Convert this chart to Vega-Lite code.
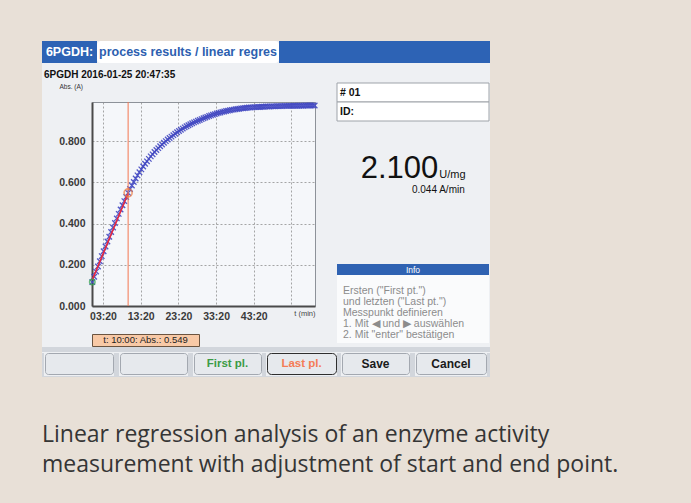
{
  "$schema": "https://vega.github.io/schema/vega-lite/v6.json",
  "background": "#eef0f3",
  "padding": 0,
  "spacing": 0,
  "config": {"view": {"stroke": null}, "font": "Liberation Sans", "concat": {"spacing": 0}},
  "datasets": {
    "readings": [
      {"t":30,"abs":0.116},{"t":60,"abs":0.142},{"t":90,"abs":0.167},{"t":120,"abs":0.192},{"t":150,"abs":0.217},{"t":180,"abs":0.242},{"t":210,"abs":0.266},{"t":240,"abs":0.289},{"t":270,"abs":0.313},{"t":300,"abs":0.336},
      {"t":330,"abs":0.359},{"t":360,"abs":0.381},{"t":390,"abs":0.403},{"t":420,"abs":0.425},{"t":450,"abs":0.447},{"t":480,"abs":0.468},{"t":510,"abs":0.489},{"t":540,"abs":0.509},{"t":570,"abs":0.529},{"t":600,"abs":0.549},
      {"t":630,"abs":0.568},{"t":660,"abs":0.585},{"t":690,"abs":0.602},{"t":720,"abs":0.619},{"t":750,"abs":0.634},{"t":780,"abs":0.649},{"t":810,"abs":0.663},{"t":840,"abs":0.677},{"t":870,"abs":0.690},{"t":900,"abs":0.702},
      {"t":930,"abs":0.714},{"t":960,"abs":0.726},{"t":990,"abs":0.736},{"t":1020,"abs":0.747},{"t":1050,"abs":0.757},{"t":1080,"abs":0.766},{"t":1110,"abs":0.775},{"t":1140,"abs":0.784},{"t":1170,"abs":0.792},{"t":1200,"abs":0.800},
      {"t":1230,"abs":0.808},{"t":1260,"abs":0.815},{"t":1290,"abs":0.822},{"t":1320,"abs":0.829},{"t":1350,"abs":0.836},{"t":1380,"abs":0.843},{"t":1410,"abs":0.849},{"t":1440,"abs":0.855},{"t":1470,"abs":0.861},{"t":1500,"abs":0.867},
      {"t":1530,"abs":0.872},{"t":1560,"abs":0.877},{"t":1590,"abs":0.882},{"t":1620,"abs":0.887},{"t":1650,"abs":0.891},{"t":1680,"abs":0.895},{"t":1710,"abs":0.899},{"t":1740,"abs":0.903},{"t":1770,"abs":0.907},{"t":1800,"abs":0.911},
      {"t":1830,"abs":0.915},{"t":1860,"abs":0.918},{"t":1890,"abs":0.922},{"t":1920,"abs":0.925},{"t":1950,"abs":0.928},{"t":1980,"abs":0.931},{"t":2010,"abs":0.934},{"t":2040,"abs":0.937},{"t":2070,"abs":0.939},{"t":2100,"abs":0.942},
      {"t":2130,"abs":0.944},{"t":2160,"abs":0.946},{"t":2190,"abs":0.948},{"t":2220,"abs":0.950},{"t":2250,"abs":0.952},{"t":2280,"abs":0.953},{"t":2310,"abs":0.955},{"t":2340,"abs":0.956},{"t":2370,"abs":0.957},{"t":2400,"abs":0.959},
      {"t":2430,"abs":0.960},{"t":2460,"abs":0.961},{"t":2490,"abs":0.962},{"t":2520,"abs":0.963},{"t":2550,"abs":0.963},{"t":2580,"abs":0.964},{"t":2610,"abs":0.965},{"t":2640,"abs":0.965},{"t":2670,"abs":0.966},{"t":2700,"abs":0.966},
      {"t":2730,"abs":0.967},{"t":2760,"abs":0.967},{"t":2790,"abs":0.968},{"t":2820,"abs":0.968},{"t":2850,"abs":0.968},{"t":2880,"abs":0.969},{"t":2910,"abs":0.969},{"t":2940,"abs":0.969},{"t":2970,"abs":0.970},{"t":3000,"abs":0.970},
      {"t":3030,"abs":0.970},{"t":3060,"abs":0.970},{"t":3090,"abs":0.971},{"t":3120,"abs":0.971},{"t":3150,"abs":0.971},{"t":3180,"abs":0.971},{"t":3210,"abs":0.971},{"t":3240,"abs":0.972},{"t":3270,"abs":0.972},{"t":3300,"abs":0.972},
      {"t":3330,"abs":0.972},{"t":3360,"abs":0.972},{"t":3390,"abs":0.972},{"t":3420,"abs":0.973},{"t":3450,"abs":0.973},{"t":3480,"abs":0.973},{"t":3510,"abs":0.973},{"t":3540,"abs":0.973},{"t":3570,"abs":0.973}
    ],
    "ends": [{"t":30,"abs":0.116,"end":"First pt."},{"t":600,"abs":0.549,"end":"Last pt."}],
    "fit": [{"t":30,"abs":0.127},{"t":600,"abs":0.547}]
  },
  "vconcat": [
    {"width":691,"height":41,"view":{"fill":"#e8e0d7"},"data":{"values":[]},"mark":"point"},
    {"hconcat": [
      {"width":42,"height":336,"view":{"fill":"#e8e0d7"},"data":{"values":[]},"mark":"point"},
      {"vconcat": [
        {"hconcat": [
          {"width":55,"height":22,"view":{"fill":"#2d63b5"},"data":{"values":[{"t":"6PGDH:"}]},"mark":{"type":"text","color":"#ffffff","fontSize":12.5,"fontWeight":"bold","baseline":"middle"},"encoding":{"text":{"field":"t"}}},
          {"width":182,"height":22,"view":{"fill":"#ffffff","cornerRadius":4},"data":{"values":[{"t":"process results / linear regres"}]},"mark":{"type":"text","color":"#2d5fb0","fontSize":12.5,"fontWeight":"bold","baseline":"middle"},"encoding":{"text":{"field":"t"}}},
          {"width":211,"height":22,"view":{"fill":"#2d63b5"},"data":{"values":[]},"mark":"point"}
        ], "spacing":0},
        {"hconcat": [
          {"width":1,"height":1,"data":{"values":[]},"mark":"point"},
          {"vconcat": [
            {"width":1,"height":6,"data":{"values":[]},"mark":"point"},
            {
              "width":223,"height":204,
              "view":{"fill":"#f5f7fa","stroke":"#8d9299","strokeWidth":1},
              "title":{"text":"6PGDH 2016-01-25 20:47:35","anchor":"start","frame":"group","dx":-48,"offset":3,"fontSize":10,"fontWeight":"bold","color":"#111111"},
              "layer":[
                {"data":{"name":"readings"},
                 "mark":{"type":"point","shape":"M-1,-1L1,1M-1,1L1,-1","filled":false,"strokeWidth":1.3,"size":30,"color":"#4248c2","opacity":0.9},
                 "encoding":{
                   "x":{"field":"t","type":"quantitative","scale":{"domain":[25,3575],"nice":false,"zero":false},
                        "axis":{"values":[200,800,1400,2000,2600,3200],
                                "labelExpr":"datum.value == 3200 ? '' : (datum.value < 600 ? '0' : '') + floor(datum.value / 60) + ':' + (datum.value % 60 < 10 ? '0' : '') + (datum.value % 60)",
                                "grid":true,"gridDash":[2,2],"gridColor":"#8f8f8f","gridWidth":0.8,"ticks":false,
                                "domainColor":"#4a4a4a","domainWidth":2,"labelFontSize":10.5,"labelFontWeight":"bold","labelColor":"#3a3a3a",
                                "labelPadding":5,"labelDx":-5,"labelFlush":false,"labelOverlap":false,
                                "title":"t (min)","titleFontSize":7.5,"titleFontWeight":"normal","titleColor":"#444444","titleAnchor":"end","titleAlign":"right","titleX":223,"titleY":9,"titleBaseline":"alphabetic"}},
                   "y":{"field":"abs","type":"quantitative","scale":{"domain":[0,0.99],"nice":false,"zero":false},
                        "axis":{"values":[0,0.2,0.4,0.6,0.8],"format":".3f","grid":true,"gridDash":[2,2],"gridColor":"#8f8f8f","gridWidth":0.8,"ticks":false,
                                "domainColor":"#4a4a4a","domainWidth":2,"labelFontSize":10.5,"labelFontWeight":"bold","labelColor":"#3a3a3a","labelPadding":7,
                                "title":"Abs. (A)","titleAngle":0,"titleAlign":"left","titleBaseline":"alphabetic","titleX":-33,"titleY":-14,"titleFontSize":6.5,"titleFontWeight":"normal","titleColor":"#333333"}}
                 }},
                {"data":{"name":"fit"},"mark":{"type":"line","color":"#e8283e","strokeWidth":1.6},
                 "encoding":{"x":{"field":"t","type":"quantitative"},"y":{"field":"abs","type":"quantitative"}}},
                {"data":{"name":"ends"},"transform":[{"filter":"datum.end == 'Last pt.'"}],"mark":{"type":"rule","color":"#f47650","strokeWidth":1},
                 "encoding":{"x":{"field":"t","type":"quantitative"}}},
                {"data":{"name":"ends"},"transform":[{"filter":"datum.end == 'First pt.'"}],"mark":{"type":"point","filled":false,"strokeWidth":1.5,"size":30,"color":"#2fa34a"},
                 "encoding":{"x":{"field":"t","type":"quantitative"},"y":{"field":"abs","type":"quantitative"}}},
                {"data":{"name":"ends"},"transform":[{"filter":"datum.end == 'Last pt.'"}],"mark":{"type":"point","filled":false,"strokeWidth":1.6,"size":65,"color":"#f07a3c"},
                 "encoding":{"x":{"field":"t","type":"quantitative"},"y":{"field":"abs","type":"quantitative"}}}
              ]
            },
            {"width":1,"height":11,"data":{"values":[]},"mark":"point"},
            {"width":107,"height":12,"view":{"fill":"#f8c9a6","stroke":"#6b5440","strokeWidth":1},"data":{"values":[{"t":"t: 10:00: Abs.: 0.549"}]},"mark":{"type":"text","fontSize":9.5,"color":"#222222","baseline":"middle"},"encoding":{"text":{"field":"t"}}}
          ],"spacing":0},
          {"width":15,"height":1,"data":{"values":[]},"mark":"point"},
          {"vconcat":[
            {"width":152,"height":19,"data":{"values":[]},"mark":"point"},
            {"width":152,"height":38,"data":{"values":[{"row":"r1","t":"# 01"},{"row":"r2","t":"ID:"}]},
             "layer":[
               {"mark":{"type":"rect","fill":"#ffffff","stroke":"#9ea3a9","strokeWidth":1},
                "encoding":{"y":{"field":"row","type":"nominal","scale":{"type":"band","paddingInner":0,"paddingOuter":0},"axis":null}}},
               {"mark":{"type":"text","align":"left","baseline":"middle","dx":3,"fontSize":10.5,"fontWeight":"bold","color":"#111111"},
                "encoding":{"y":{"field":"row","type":"nominal","axis":null},
                            "x":{"datum":"L","type":"nominal","scale":{"type":"point","padding":0,"align":0},"axis":null},
                            "text":{"field":"t"}}}
             ]},
            {"width":152,"height":31,"data":{"values":[]},"mark":"point"},
            {"width":152,"height":30,
             "data":{"values":[{"k":"big","col":"b","row":"1","t":"2.100"},{"k":"unit","col":"c","row":"1","t":"U/mg"},{"k":"rate","col":"b","row":"2","t":"0.044 A/min"}]},
             "layer":[
               {"transform":[{"filter":"datum.k == 'big'"}],"mark":{"type":"text","fontSize":31,"align":"right","baseline":"alphabetic","color":"#111111"},
                "encoding":{"x":{"field":"col","type":"nominal","bandPosition":1,"scale":{"type":"band","domain":["a","b","c"],"paddingInner":0,"paddingOuter":0},"axis":null},
                            "y":{"field":"row","type":"nominal","bandPosition":1,"scale":{"type":"band","domain":["1","2"],"paddingInner":0,"paddingOuter":0},"axis":null},
                            "text":{"field":"t"}}},
               {"transform":[{"filter":"datum.k == 'unit'"}],"mark":{"type":"text","fontSize":11,"align":"left","baseline":"alphabetic","dx":1,"color":"#111111"},
                "encoding":{"x":{"field":"col","type":"nominal","bandPosition":0,"axis":null},
                            "y":{"field":"row","type":"nominal","bandPosition":1,"axis":null},
                            "text":{"field":"t"}}},
               {"transform":[{"filter":"datum.k == 'rate'"}],"mark":{"type":"text","fontSize":10,"align":"center","baseline":"alphabetic","color":"#111111"},
                "encoding":{"x":{"field":"col","type":"nominal","bandPosition":1,"axis":null},
                            "y":{"field":"row","type":"nominal","bandPosition":1,"axis":null},
                            "text":{"field":"t"}}}
             ]},
            {"width":152,"height":69,"data":{"values":[]},"mark":"point"},
            {"width":152,"height":11,"view":{"fill":"#2f62b2"},"data":{"values":[{"t":"Info"}]},"mark":{"type":"text","color":"#ffffff","fontSize":8.5,"baseline":"middle"},"encoding":{"text":{"field":"t"}}},
            {"width":152,"height":10,"view":{"fill":"#fafbfc"},"data":{"values":[]},"mark":"point"},
            {"width":152,"height":55,"view":{"fill":"#fafbfc"},
             "data":{"values":[{"n":"1","t":"Ersten (\"First pt.\")"},{"n":"2","t":"und letzten (\"Last pt.\")"},{"n":"3","t":"Messpunkt definieren"},{"n":"4","t":"1. Mit ◀ und ▶ auswählen"},{"n":"5","t":"2. Mit \"enter\" bestätigen"}]},
             "mark":{"type":"text","align":"left","baseline":"middle","dx":6,"fontSize":10.5,"color":"#8c8c8c"},
             "encoding":{"y":{"field":"n","type":"ordinal","scale":{"type":"band","paddingInner":0,"paddingOuter":0},"axis":null},
                         "x":{"datum":"L","type":"nominal","scale":{"type":"point","padding":0,"align":0},"axis":null},
                         "text":{"field":"t"}}},
            {"width":152,"height":3,"view":{"fill":"#fafbfc"},"data":{"values":[]},"mark":"point"},
            {"width":152,"height":3,"data":{"values":[]},"mark":"point"}
          ],"spacing":0}
        ],"spacing":0},
        {"width":448,"height":5,"view":{"fill":"#d2d6dc"},"data":{"values":[]},"mark":"point"},
        {"hconcat":[
          {"width":2,"height":23,"view":{"fill":"#d2d6dc"},"data":{"values":[]},"mark":"point"},
          {"width":68,"height":21,"view":{"fill":"#e6e9ed","stroke":"#a3a8b0","strokeWidth":1,"cornerRadius":3},"data":{"values":[]},"mark":"text"},
          {"width":5,"height":23,"view":{"fill":"#d2d6dc"},"data":{"values":[]},"mark":"point"},
          {"width":67,"height":21,"view":{"fill":"#e6e9ed","stroke":"#a3a8b0","strokeWidth":1,"cornerRadius":3},"data":{"values":[]},"mark":"text"},
          {"width":5,"height":23,"view":{"fill":"#d2d6dc"},"data":{"values":[]},"mark":"point"},
          {"width":67,"height":21,"view":{"fill":"#e6e9ed","stroke":"#a3a8b0","strokeWidth":1,"cornerRadius":3},"data":{"values":[{"t":"First pl."}]},"mark":{"type":"text","color":"#3b9b45","fontSize":11.5,"fontWeight":"bold","baseline":"middle"},"encoding":{"text":{"field":"t"}}},
          {"width":4,"height":23,"view":{"fill":"#d2d6dc"},"data":{"values":[]},"mark":"point"},
          {"width":69,"height":21,"view":{"fill":"#e6e9ed","stroke":"#2e2e2e","strokeWidth":1,"cornerRadius":4},"data":{"values":[{"t":"Last pl."}]},"mark":{"type":"text","color":"#f47c56","fontSize":11.5,"fontWeight":"bold","baseline":"middle"},"encoding":{"text":{"field":"t"}}},
          {"width":4,"height":23,"view":{"fill":"#d2d6dc"},"data":{"values":[]},"mark":"point"},
          {"width":67,"height":21,"view":{"fill":"#e6e9ed","stroke":"#a3a8b0","strokeWidth":1,"cornerRadius":3},"data":{"values":[{"t":"Save"}]},"mark":{"type":"text","color":"#1a1a1a","fontSize":12,"fontWeight":"bold","baseline":"middle"},"encoding":{"text":{"field":"t"}}},
          {"width":5,"height":23,"view":{"fill":"#d2d6dc"},"data":{"values":[]},"mark":"point"},
          {"width":70,"height":21,"view":{"fill":"#e6e9ed","stroke":"#a3a8b0","strokeWidth":1,"cornerRadius":3},"data":{"values":[{"t":"Cancel"}]},"mark":{"type":"text","color":"#1a1a1a","fontSize":12,"fontWeight":"bold","baseline":"middle"},"encoding":{"text":{"field":"t"}}},
          {"width":3,"height":23,"view":{"fill":"#d2d6dc"},"data":{"values":[]},"mark":"point"}
        ],"spacing":0},
        {"width":448,"height":1,"view":{"fill":"#d2d6dc"},"data":{"values":[]},"mark":"point"}
      ],"spacing":0},
      {"width":201,"height":336,"view":{"fill":"#e8e0d7"},"data":{"values":[]},"mark":"point"}
    ],"spacing":0},
    {"hconcat":[
      {"width":42,"height":126,"view":{"fill":"#e8e0d7"},"data":{"values":[]},"mark":"point"},
      {"vconcat":[
        {"width":649,"height":43,"view":{"fill":"#e8e0d7"},"data":{"values":[]},"mark":"point"},
        {"width":649,"height":60,"view":{"fill":"#e8e0d7"},
         "data":{"values":[{"line":"1","t":"Linear regression analysis of an enzyme activity"},{"line":"2","t":"measurement with adjustment of start and end point."}]},
         "mark":{"type":"text","align":"left","baseline":"middle","font":"Open Sans","fontSize":23,"color":"#353535"},
         "encoding":{"y":{"field":"line","type":"ordinal","scale":{"type":"band","paddingInner":0,"paddingOuter":0},"axis":null},
                     "x":{"datum":"L","type":"nominal","scale":{"type":"point","padding":0,"align":0},"axis":null},
                     "text":{"field":"t"}}},
        {"width":649,"height":23,"view":{"fill":"#e8e0d7"},"data":{"values":[]},"mark":"point"}
      ],"spacing":0}
    ],"spacing":0}
  ]
}
